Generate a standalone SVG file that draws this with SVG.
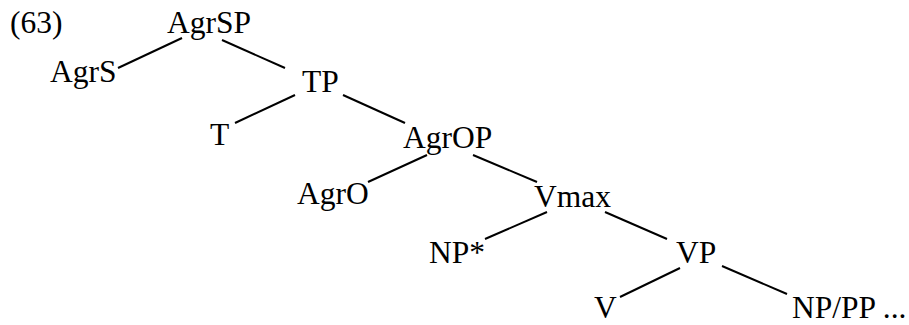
<svg xmlns="http://www.w3.org/2000/svg" width="909" height="325" viewBox="0 0 909 325">
<style>
.edge { stroke: #000; stroke-width: 2; fill: none; }
</style>
<rect width="909" height="325" fill="#fff"/>
<g font-family="'Liberation Serif', 'Times New Roman', Times, 'DejaVu Serif', serif" font-size="31.5" fill="#000">
<text id="label" x="10" y="33">(63)</text>
<g id="connectors">
<line class="edge" x1="182" y1="38" x2="118" y2="68"/>
<line class="edge" x1="222" y1="40" x2="285" y2="68"/>
<line class="edge" x1="295" y1="95" x2="235" y2="123"/>
<line class="edge" x1="343" y1="95" x2="405" y2="123"/>
<line class="edge" x1="427" y1="155" x2="368" y2="182"/>
<line class="edge" x1="473" y1="155" x2="537" y2="182"/>
<line class="edge" x1="547" y1="212" x2="485" y2="239"/>
<line class="edge" x1="605" y1="212" x2="667" y2="239"/>
<line class="edge" x1="680" y1="268" x2="620" y2="297"/>
<line class="edge" x1="722" y1="266" x2="787" y2="294"/>
</g>
<g id="n-AgrSP"><text x="167" y="33">AgrSP</text></g>
<g id="n-AgrS"><text x="50" y="82">AgrS</text></g>
<g id="n-TP"><text x="302" y="92">TP</text></g>
<g id="n-T"><text x="210" y="145">T</text></g>
<g id="n-AgrOP"><text x="403" y="148">AgrOP</text></g>
<g id="n-AgrO"><text x="297" y="204">AgrO</text></g>
<g id="n-Vmax"><text x="534" y="207">Vmax</text></g>
<g id="n-NPstar"><text x="429" y="263">NP*</text></g>
<g id="n-VP"><text x="676" y="263">VP</text></g>
<g id="n-V"><text x="594" y="318">V</text></g>
<g id="n-NPPP"><text x="792" y="318">NP/PP ...</text></g>
</g>
</svg>
